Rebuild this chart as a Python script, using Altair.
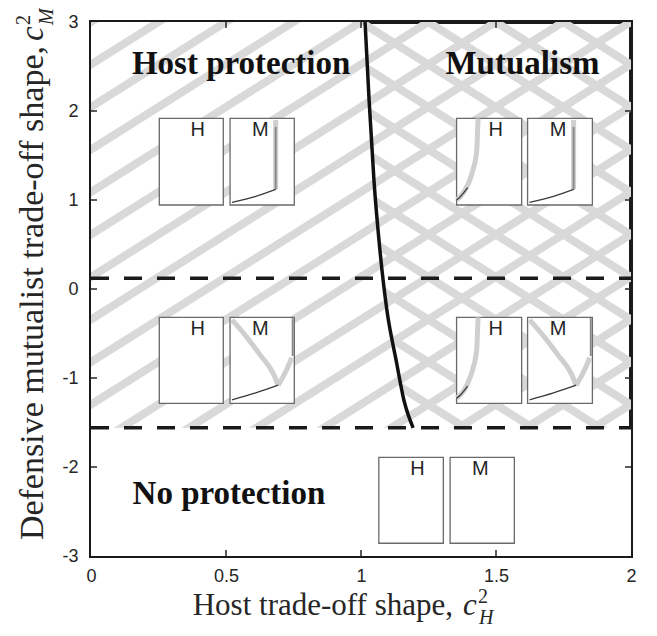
import altair as alt
import pandas as pd
import numpy as np

# ---------------- data ----------------
x_tick_values = [0, 0.5, 1, 1.5, 2]
y_tick_values = [-3, -2, -1, 0, 1, 2, 3]
x_inner_ticks = [0.5, 1, 1.5]
y_inner_ticks = [-2, -1, 0, 1, 2]

# boundary between host protection and mutualism
boundary_cH = [1.015, 1.030, 1.048, 1.070, 1.096, 1.130, 1.159, 1.193]
boundary_cM = [3.0, 2.12, 1.22, 0.44, -0.24, -0.80, -1.25, -1.56]

# horizontal thresholds (dashed)
threshold_cM = [0.12, -1.56]

region_names = ["Host protection", "Mutualism", "No protection"]
region_cH = [0.556, 1.598, 0.511]
region_cM = [2.416, 2.416, -2.416]

# inset panels (data-coordinate boxes)
inset_label = ["H", "M", "H", "M", "H", "M", "H", "M", "H", "M"]
inset_x0 = [0.253, 0.515, 1.354, 1.617, 0.253, 0.515, 1.354, 1.617, 1.066, 1.330]
inset_x1 = [0.490, 0.753, 1.595, 1.857, 0.490, 0.753, 1.595, 1.857, 1.305, 1.568]
inset_top = [1.918, 1.918, 1.918, 1.918, -0.318, -0.318, -0.318, -0.318, -1.891, -1.891]
inset_bot = [0.944, 0.944, 0.944, 0.944, -1.284, -1.284, -1.284, -1.284, -2.857, -2.857]
inset_kind = ["empty", "M_up", "H_mut", "M_up", "empty", "M_low", "H_mut", "M_low", "empty", "empty"]

# traces inside the insets, in panel fractions (u from left, v from top)
traces = {
    "M_up": [
        ("blur", [0.71, 0.71], [0.02, 0.82]),
        ("band", [0.71, 0.71], [0.10, 0.82]),
        ("dark", [0.71, 0.40, 0.03], [0.82, 0.90, 0.97]),
    ],
    "H_mut": [
        ("blur", [0.33, 0.32, 0.31, 0.25, 0.17, 0.05, 0.0], [0.0, 0.2, 0.37, 0.6, 0.77, 0.91, 0.94]),
        ("dark", [0.17, 0.05, 0.0], [0.80, 0.91, 0.94]),
    ],
    "M_low": [
        ("blur", [0.03, 0.26, 0.47, 0.67, 0.75], [0.03, 0.23, 0.44, 0.65, 0.79]),
        ("blur", [0.96, 0.88, 0.75], [0.47, 0.61, 0.79]),
        ("band", [0.975, 0.975], [0.01, 0.45]),
        ("dark", [0.75, 0.40, 0.03], [0.79, 0.88, 0.96]),
    ],
    "empty": [],
}

x_title_main = ["Host trade-off shape,"]
y_title_main = ["Defensive mutualist trade-off shape,"]

# ---------------- layout ----------------
W, H = 540, 534
xs = alt.Scale(domain=[0, 2], nice=False, zero=False)
ys = alt.Scale(domain=[-3, 3], nice=False, zero=False)
xaxis = alt.Axis(values=x_tick_values, ticks=False, domain=False, grid=False, title=None,
                 labelFont="Liberation Sans", labelFontSize=18, labelColor="#262626",
                 labelPadding=11, labelExpr="'' + datum.value", labelFlush=False)
yaxis = alt.Axis(values=y_tick_values, ticks=False, domain=False, grid=False, title=None,
                 labelFont="Liberation Sans", labelFontSize=18, labelColor="#262626",
                 labelPadding=13, labelExpr="'' + datum.value", labelFlush=False)


def X(f):
    return alt.X(f + ":Q", scale=xs, axis=xaxis)


def Y(f):
    return alt.Y(f + ":Q", scale=ys, axis=yaxis)


# hatch geometry (pixel space -> data space)
slope = 0.63
dv = 42.5
HATCH = "#d9d9d9"


def hatch(sign):
    rows = []
    for k in range(-25, 30):
        b = k * dv
        for_px = [-30, W + 30]
        pys = [b - sign * slope * p for p in for_px]
        rows.append(dict(x=for_px[0] / (W / 2), x2=for_px[1] / (W / 2),
                         y=3 - pys[0] / (H / 6), y2=3 - pys[1] / (H / 6)))
    return pd.DataFrame(rows)


back = alt.Chart(hatch(-1)).mark_rule(strokeWidth=8, color=HATCH, clip=True).encode(
    x=X("x"), x2="x2", y=Y("y"), y2="y2")
fwd = alt.Chart(hatch(1)).mark_rule(strokeWidth=8, color=HATCH, clip=True).encode(
    x=X("x"), x2="x2", y=Y("y"), y2="y2")

cdf = pd.DataFrame({"cH": [boundary_cH[0]] + boundary_cH, "cM": [3.3] + boundary_cM})
cdf["left"] = -0.1
left_white = alt.Chart(cdf).mark_area(orient="horizontal", color="white", clip=True).encode(
    y=Y("cM"), x=X("left"), x2="cH")

bottom_white = alt.Chart(pd.DataFrame({"a": [-0.1], "b": [2.1], "c": [-3.3], "d": [threshold_cM[1]]})).mark_rect(
    color="white", clip=True).encode(x=X("a"), x2="b", y=Y("c"), y2="d")

tick_b = alt.Chart(pd.DataFrame({"v": x_inner_ticks})).mark_rule(color="#262626", strokeWidth=1.5).encode(
    x=X("v"), y=alt.value(H), y2=alt.value(H - 6))
tick_t = alt.Chart(pd.DataFrame({"v": x_inner_ticks})).mark_rule(color="#262626", strokeWidth=1.5).encode(
    x=X("v"), y=alt.value(0), y2=alt.value(6))
tick_l = alt.Chart(pd.DataFrame({"v": y_inner_ticks})).mark_rule(color="#262626", strokeWidth=1.5).encode(
    y=Y("v"), x=alt.value(0), x2=alt.value(6))
tick_r = alt.Chart(pd.DataFrame({"v": y_inner_ticks})).mark_rule(color="#262626", strokeWidth=1.5).encode(
    y=Y("v"), x=alt.value(W - 6), x2=alt.value(W))

dashed = alt.Chart(pd.DataFrame({"v": threshold_cM})).mark_rule(
    color="#1a1a1a", strokeWidth=3.5, strokeDash=[18, 15]).encode(
    y=Y("v"), x=alt.value(0), x2=alt.value(W))

curve = alt.Chart(pd.DataFrame({"cH": boundary_cH, "cM": boundary_cM, "o": range(len(boundary_cH))})).mark_line(
    color="#111111", strokeWidth=3.5, interpolate="monotone", clip=True).encode(
    x=X("cH"), y=Y("cM"), order="o:Q")

boxes = pd.DataFrame({"lab": inset_label, "x0": inset_x0, "x1": inset_x1,
                      "top": inset_top, "bot": inset_bot, "kind": inset_kind})
box_layer = alt.Chart(boxes).mark_rect(fill="white", stroke="#6a6a6a", strokeWidth=1.3).encode(
    x=X("x0"), x2="x1", y=Y("bot"), y2="top")

boxes["u"] = np.where(boxes["lab"] == "H", 0.60, 0.47)
boxes["tx"] = boxes["x0"] + boxes["u"] * (boxes["x1"] - boxes["x0"])
boxes["ty"] = boxes["top"] - 0.205 * (boxes["top"] - boxes["bot"])
lab_layer = alt.Chart(boxes).mark_text(font="Liberation Sans", fontSize=20, color="#262626",
                                       baseline="alphabetic", align="center").encode(
    x=X("tx"), y=Y("ty"), text="lab:N")

trows = []
tid = 0
for i, kind in enumerate(inset_kind):
    for style, us, vs in traces[kind]:
        for j, (u, v) in enumerate(zip(us, vs)):
            trows.append(dict(t=tid, style=style, o=j,
                              x=inset_x0[i] + u * (inset_x1[i] - inset_x0[i]),
                              y=inset_top[i] - v * (inset_top[i] - inset_bot[i])))
        tid += 1
tdf = pd.DataFrame(trows)
styles = {"blur": ("#cfcfcf", 5), "band": ("#8c8c8c", 2), "dark": ("#3a3a3a", 1.3)}
trace_layers = []
for s, (col, sw) in styles.items():
    trace_layers.append(
        alt.Chart(tdf[tdf["style"] == s]).mark_line(color=col, strokeWidth=sw, interpolate="monotone").encode(
            x=X("x"), y=Y("y"), detail="t:N", order="o:Q"))

regions = alt.Chart(pd.DataFrame({"n": region_names, "x": region_cH, "y": region_cM})).mark_text(
    font="Liberation Serif", fontWeight="bold", fontSize=33, color="#111111", baseline="alphabetic").encode(
    x=X("x"), y=Y("y"), text="n:N")

SER = "Liberation Serif"
TC = "#262626"


def ptext(txt, x, y, size, style="normal", align="left", angle=0):
    return alt.Chart(pd.DataFrame({"t": [txt]})).mark_text(
        font=SER, fontSize=size, fontStyle=style, align=align, baseline="alphabetic",
        angle=angle, color=TC).encode(x=alt.value(x), y=alt.value(y), text="t:N")


titles = [
    ptext(x_title_main[0], 362, 593, 31, align="right"),
    ptext("c", 372, 593, 31, style="italic"),
    ptext("2", 387, 581, 20),
    ptext("H", 388, 602, 20, style="italic"),
    ptext(y_title_main[0], -48, 24, 34, align="right", angle=270),
    ptext("c", -48, 19, 33, style="italic", angle=270),
    ptext("2", -61, 3, 20, angle=270),
    ptext("M", -38, 3, 20, style="italic", angle=270),
]

chart = alt.layer(
    back, left_white, fwd, bottom_white, tick_b, tick_t, tick_l, tick_r,
    dashed, curve, box_layer, *trace_layers, lab_layer, regions, *titles
).properties(
    width=W, height=H,
    autosize=alt.AutoSizeParams(type="none"),
    padding={"left": 83, "top": 14, "right": 10, "bottom": 78},
).configure_view(stroke="#1a1a1a", strokeWidth=4)

chart.save("out.html", embed_options={"renderer": "svg", "actions": False})
